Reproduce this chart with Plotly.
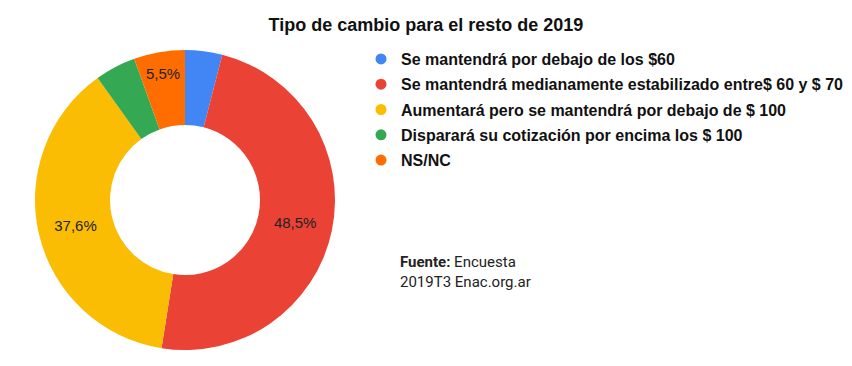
import plotly.graph_objects as go

labels = [
    "Se mantendrá por debajo de los $60",
    "Se mantendrá medianamente estabilizado entre$ 60 y $ 70",
    "Aumentará pero se mantendrá por debajo de $ 100",
    "Disparará su cotización por encima los $ 100",
    "NS/NC",
]
values = [4.0, 48.5, 37.6, 4.4, 5.5]
colors = ["#4285F4", "#EA4335", "#FBBC04", "#34A853", "#FF6D01"]

W, H = 852, 366
texts = [(f"{v:.1f}%".replace(".", ",") if v >= 5 else "") for v in values]

fig = go.Figure()
fig.add_trace(go.Pie(
    labels=labels, values=values, sort=False, direction="clockwise", rotation=0,
    hole=0.5, marker=dict(colors=colors, line=dict(width=0)),
    text=texts, textinfo="text", textposition="inside",
    insidetextorientation="horizontal",
    textfont=dict(family="Liberation Sans, Arial", size=15, color="#222222"),
    showlegend=False, hoverinfo="label+percent",
    domain=dict(x=[35 / W, 335 / W], y=[(H - 350) / H, (H - 50) / H]),
))
for i, (lab, col) in enumerate(zip(labels, colors)):
    fig.add_trace(go.Scatter(
        x=[None], y=[None], mode="markers", name=lab, legendgroup=f"g{i}",
        marker=dict(symbol="circle", size=11, color=col),
        showlegend=True,
    ))

fig.update_layout(
    width=W, height=H, margin=dict(l=0, r=0, t=0, b=0),
    paper_bgcolor="white", plot_bgcolor="white",
    title=dict(text="<b>Tipo de cambio para el resto de 2019</b>", x=0.5, xanchor="center",
               y=1 - 25 / H, yanchor="middle",
               font=dict(family="Liberation Sans, Arial", size=18, color="#111111")),
    xaxis=dict(visible=False), yaxis=dict(visible=False),
    legend=dict(x=(383 - 22) / W, xanchor="left", y=1 - 42 / H, yanchor="top",
                font=dict(family="Liberation Sans, Arial", size=16, color="#111111", weight="bold"),
                tracegroupgap=1.5,
                bgcolor="rgba(0,0,0,0)"),
    uniformtext=dict(minsize=15, mode="show"),
    annotations=[dict(
        text="<b>Fuente:</b> Encuesta<br>2019T3 Enac.org.ar",
        xref="paper", yref="paper", x=398 / W, y=1 - 251 / H,
        xanchor="left", yanchor="top", align="left", showarrow=False,
        font=dict(family="Roboto", size=15, color="#222222"),
    )],
)
fig.write_html("out.html", config={"displayModeBar": False},
               post_script="document.body.style.margin='0';")
